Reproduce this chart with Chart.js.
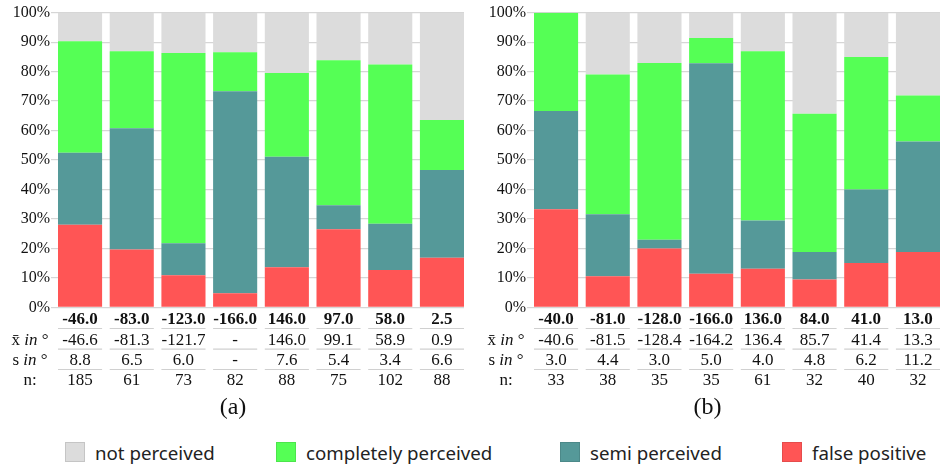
<!DOCTYPE html>
<html><head><meta charset="utf-8">
<script src="https://cdn.jsdelivr.net/npm/chart.js@4.4.1/dist/chart.umd.min.js"></script>
<style>
html,body{margin:0;padding:0;background:#fff;width:940px;height:468px;overflow:hidden;position:relative;}
.wrap{position:absolute;top:0;width:470px;height:425px;}
#wa{left:0;} #wb{left:470px;}
.leg{position:absolute;top:442px;height:20px;display:flex;align-items:center;font-family:"Noto Sans";font-size:18.7px;color:#222;white-space:nowrap;}
.leg i{display:inline-block;box-sizing:border-box;width:20px;height:20px;border:1px solid rgba(0,0,0,0.10);margin-right:10px;}
</style></head>
<body>
<div class="wrap" id="wa"><canvas id="ca"></canvas></div>
<div class="wrap" id="wb"><canvas id="cb"></canvas></div>
<div class="leg" style="left:65px"><i style="background:#dcdcdc"></i>not perceived</div>
<div class="leg" style="left:276px"><i style="background:#55ff55"></i>completely perceived</div>
<div class="leg" style="left:560px"><i style="background:#559999"></i>semi perceived</div>
<div class="leg" style="left:782px"><i style="background:#ff5555"></i>false positive</div>
<script>
// ---- data (percent of detections per target angle) ----
const seriesNames = ["false positive","semi perceived","completely perceived","not perceived"];
const seriesColors = ["#ff5555","#559999","#55ff55","#dcdcdc"];

// panel (a)
const aFalsePositive = [28.0, 19.6, 10.9, 4.8, 13.6, 26.5, 12.7, 16.8];
const aSemi          = [24.5, 41.2, 10.8, 68.5, 37.5, 8.1, 15.7, 29.8];
const aComplete      = [37.8, 26.1, 64.6, 13.3, 28.4, 49.3, 54.0, 17.0];
const aNot           = [9.7, 13.1, 13.7, 13.4, 20.5, 16.1, 17.6, 36.4];
const aTrue  = ["-46.0","-83.0","-123.0","-166.0","146.0","97.0","58.0","2.5"];
const aMean  = ["-46.6","-81.3","-121.7","-","146.0","99.1","58.9","0.9"];
const aStd   = ["8.8","6.5","6.0","-","7.6","5.4","3.4","6.6"];
const aN     = ["185","61","73","82","88","75","102","88"];

// panel (b)
const bFalsePositive = [33.3, 10.5, 20.0, 11.4, 13.1, 9.4, 15.0, 18.8];
const bSemi          = [33.3, 21.1, 2.9, 71.4, 16.4, 9.4, 25.0, 37.5];
const bComplete      = [33.4, 47.4, 60.0, 8.6, 57.4, 46.9, 45.0, 15.6];
const bNot           = [0.0, 21.0, 17.1, 8.6, 13.1, 34.3, 15.0, 28.1];
const bTrue  = ["-40.0","-81.0","-128.0","-166.0","136.0","84.0","41.0","13.0"];
const bMean  = ["-40.6","-81.5","-128.4","-164.2","136.4","85.7","41.4","13.3"];
const bStd   = ["3.0","4.4","3.0","5.0","4.0","4.8","6.2","11.2"];
const bN     = ["33","38","35","35","61","32","40","32"];

const yTicks = [0,10,20,30,40,50,60,70,80,90,100];

const SERIF = '"Liberation Serif", "Times New Roman", "DejaVu Serif", serif';
const BAR_PCT = 0.853;
const HALF = BAR_PCT/2;

const tablePlugin = {
  id: 'tbl',
  afterDraw(chart, args, o) {
    const ctx = chart.ctx, x = chart.scales.x, a = chart.chartArea, b = a.bottom;
    const unit = x.getPixelForValue(1) - x.getPixelForValue(0);
    const half = unit * BAR_PCT / 2;
    const n = o.rows[0].length;
    ctx.save();
    ctx.strokeStyle = '#d0d0d0'; ctx.lineWidth = 1.2;
    [21.2, 41.9, 62.2].forEach(dy => {
      for (let i = 0; i < n; i++) {
        const cx = x.getPixelForValue(i);
        ctx.beginPath(); ctx.moveTo(cx - half, b + dy); ctx.lineTo(cx + half, b + dy); ctx.stroke();
      }
    });
    ctx.fillStyle = '#111'; ctx.textAlign = 'center'; ctx.textBaseline = 'alphabetic';
    const offs = [16.7, 37.7, 57.7, 77.7];
    o.rows.forEach((r, ri) => {
      ctx.font = (ri === 0 ? 'bold ' : '') + '17px ' + SERIF;
      r.forEach((t, i) => ctx.fillText(t, x.getPixelForValue(i), b + offs[ri]));
    });
    // row labels
    const labels = [
      null,
      [["x\u0304 ", ""], ["in", "italic "], [" \u00b0", ""]],
      [["s ", ""], ["in", "italic "], [" \u00b0", ""]],
      [["n:", ""]]
    ];
    const lc = a.left - 28;
    ctx.textAlign = 'left';
    labels.forEach((parts, ri) => {
      if (!parts) return;
      let w = 0;
      parts.forEach(p => { ctx.font = p[1] + '17px ' + SERIF; w += ctx.measureText(p[0]).width; });
      let px = lc - w / 2;
      parts.forEach(p => { ctx.font = p[1] + '17px ' + SERIF; ctx.fillText(p[0], px, b + offs[ri]); px += ctx.measureText(p[0]).width; });
    });
    // caption
    ctx.textAlign = 'center';
    ctx.font = '24px ' + SERIF;
    ctx.fillText(o.caption, o.captionX, b + 106.7);
    ctx.restore();
  }
};

function makeChart(id, vals, rows, yWidth, padRight, caption, captionX) {
  return new Chart(document.getElementById(id), {
    type: 'bar',
    data: {
      datasets: vals.map((v, k) => ({
        label: seriesNames[k],
        data: v.map((y, i) => ({x: i, y: y})),
        backgroundColor: seriesColors[k],
        borderWidth: 0,
        barPercentage: BAR_PCT,
        categoryPercentage: 1.0
      }))
    },
    options: {
      responsive: true, maintainAspectRatio: false, animation: false,
      layout: {padding: {top: 12.7, bottom: 425 - 307.3, left: 0, right: padRight}},
      plugins: {legend: {display: false}, tooltip: {enabled: false},
        tbl: {rows: rows, caption: caption, captionX: captionX}},
      scales: {
        x: {type: 'linear', stacked: true, display: false, min: -HALF, max: vals[0].length - 1 + HALF,
            offset: false, grid: {display: false}},
        y: {stacked: true, min: 0, max: 100,
            afterFit(s) { s.width = yWidth; },
            afterBuildTicks(s) { s.ticks = yTicks.map(v => ({value: v})); },
            border: {display: false},
            grid: {color: '#d6d6d6', lineWidth: 1.2, tickLength: 7, drawTicks: true},
            ticks: {padding: 1, color: '#111', font: {family: SERIF, size: 16},
                    callback: v => v + '%'}}
      }
    },
    plugins: [tablePlugin]
  });
}

makeChart('ca', [aFalsePositive, aSemi, aComplete, aNot], [aTrue, aMean, aStd, aN], 58, 6, '(a)', 233);
makeChart('cb', [bFalsePositive, bSemi, bComplete, bNot], [bTrue, bMean, bStd, bN], 64, 0, '(b)', 237.5);
</script>
</body></html>
